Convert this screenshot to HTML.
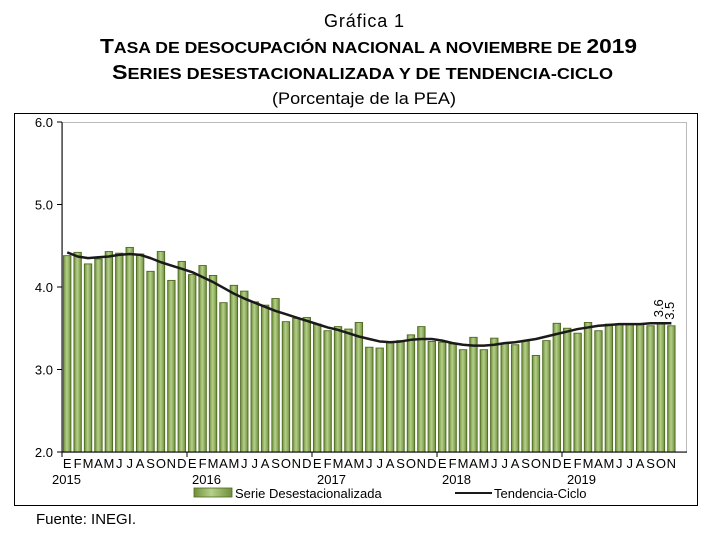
<!DOCTYPE html>
<html><head><meta charset="utf-8"><style>
body{margin:0;background:#fff;width:711px;height:538px;overflow:hidden;font-family:"Liberation Sans",sans-serif}
svg text{font-family:"Liberation Sans",sans-serif}
</style></head><body>
<svg id="c" width="711" height="538">
<defs><linearGradient id="g" x1="0" x2="1"><stop offset="0" stop-color="#6f8f3a"/><stop offset="0.45" stop-color="#b5d08a"/><stop offset="1" stop-color="#6f8f3a"/></linearGradient></defs>
<text x="364" y="27" text-anchor="middle" font-size="18" textLength="80">Gráfica 1</text>
<text x="100" y="53" font-size="20" font-weight="bold" textLength="537" lengthAdjust="spacingAndGlyphs">T<tspan font-size="15.5">ASA DE DESOCUPACIÓN NACIONAL A NOVIEMBRE DE </tspan>2019</text>
<text x="112" y="79" font-size="20" font-weight="bold" textLength="501" lengthAdjust="spacingAndGlyphs">S<tspan font-size="15.5">ERIES DESESTACIONALIZADA Y DE TENDENCIA-CICLO</tspan></text>
<text x="272" y="104" font-size="17" textLength="184" lengthAdjust="spacingAndGlyphs">(Porcentaje de la PEA)</text>
<rect x="14.5" y="113.5" width="683" height="392" fill="none" stroke="#000"/>
<rect x="62.5" y="122.5" width="624" height="330" fill="none" stroke="#bbb"/>
<g id="bars"></g><g id="axes"></g>
<text x="36" y="524" font-size="15">Fuente: INEGI.</text>
</svg>
<script>
const years=["2015","2016","2017","2018","2019"];
const months=["E","F","M","A","M","J","J","A","S","O","N","D"];
const yTicks=[2,3,4,5,6];
const serie=[4.38,4.42,4.28,4.34,4.43,4.41,4.48,4.40,4.19,4.43,4.08,4.31,
4.15,4.26,4.14,3.81,4.02,3.95,3.82,3.78,3.86,3.58,3.62,3.63,
3.55,3.47,3.52,3.49,3.57,3.27,3.26,3.33,3.35,3.42,3.52,3.34,
3.33,3.31,3.24,3.39,3.24,3.38,3.32,3.30,3.35,3.17,3.35,3.56,
3.50,3.44,3.57,3.47,3.55,3.55,3.55,3.55,3.53,3.56,3.53];
const tendencia=[4.42,4.37,4.35,4.36,4.37,4.39,4.40,4.39,4.35,4.30,4.26,4.22,
4.18,4.12,4.06,3.99,3.92,3.86,3.81,3.76,3.71,3.67,3.63,3.59,
3.55,3.51,3.48,3.44,3.40,3.37,3.34,3.33,3.34,3.36,3.37,3.37,
3.35,3.32,3.30,3.29,3.29,3.30,3.32,3.33,3.35,3.37,3.40,3.43,
3.46,3.49,3.51,3.53,3.54,3.55,3.55,3.55,3.56,3.56,3.56];
const NS="http://www.w3.org/2000/svg";
const L=62,R=687,T=122,B=452,slots=60,w=(R-L)/slots;
const y=v=>B-(v-2)/4*(B-T);
const x=i=>L+i*w;
function mk(t,a,p){const e=document.createElementNS(NS,t);for(const k in a)e.setAttribute(k,a[k]);p.appendChild(e);return e;}
const bars=document.getElementById('bars'),ax=document.getElementById('axes');
serie.forEach((v,i)=>{const r=mk('rect',{x:x(i)+1.5,y:y(v),width:w-3,height:B-y(v),fill:'url(#g)',stroke:'#4e6a22','stroke-width':0.9},bars);

});
const ln=mk('polyline',{points:tendencia.map((v,i)=>(x(i)+w/2)+','+y(v)).join(' '),fill:'none',stroke:'#1a1a1a','stroke-width':2.5,'stroke-linejoin':'round'},bars);


mk('line',{x1:L,y1:T,x2:L,y2:B,stroke:'#000'},ax);
mk('line',{x1:L,y1:B,x2:R,y2:B,stroke:'#000'},ax);
yTicks.forEach(v=>{mk('line',{x1:L-5,y1:y(v),x2:L,y2:y(v),stroke:'#000'},ax);
const t=mk('text',{x:L-9,y:y(v)+5,'text-anchor':'end','font-size':13},ax);t.textContent=v.toFixed(1);

});
years.forEach((yr,k)=>{const x0=x(k*12);mk('line',{x1:x0,y1:B,x2:x0,y2:B+5,stroke:'#000'},ax);
const t=mk('text',{x:x0+(k==0?-10:5),y:B+32,'font-size':13},ax);t.textContent=yr;

});
serie.forEach((v,i)=>{const t=mk('text',{x:x(i)+w/2,y:B+16,'text-anchor':'middle','font-size':13},ax);t.textContent=months[i%12];

});
const n=serie.length-1;
[[tendencia[n],x(n)-3,'trend-value-label'],[serie[n],x(n)+8,'last-value-label']].forEach(([v,xx,nm])=>{
const t=mk('text',{x:xx,y:y(v)-6,'font-size':13,transform:`rotate(-90 ${xx} ${y(v)-6})`},ax);t.textContent=v.toFixed(1);

});
const lg=mk('g',{},ax);


mk('rect',{x:194,y:488,width:38,height:9,fill:'url(#g)',stroke:'#4e6a22','stroke-width':0.8},lg);
mk('text',{x:235,y:498,'font-size':13},lg).textContent='Serie Desestacionalizada';
mk('line',{x1:455,y1:493,x2:492,y2:493,stroke:'#1a1a1a','stroke-width':2},lg);
mk('text',{x:494,y:498,'font-size':13},lg).textContent='Tendencia-Ciclo';
</script>
</body></html>
